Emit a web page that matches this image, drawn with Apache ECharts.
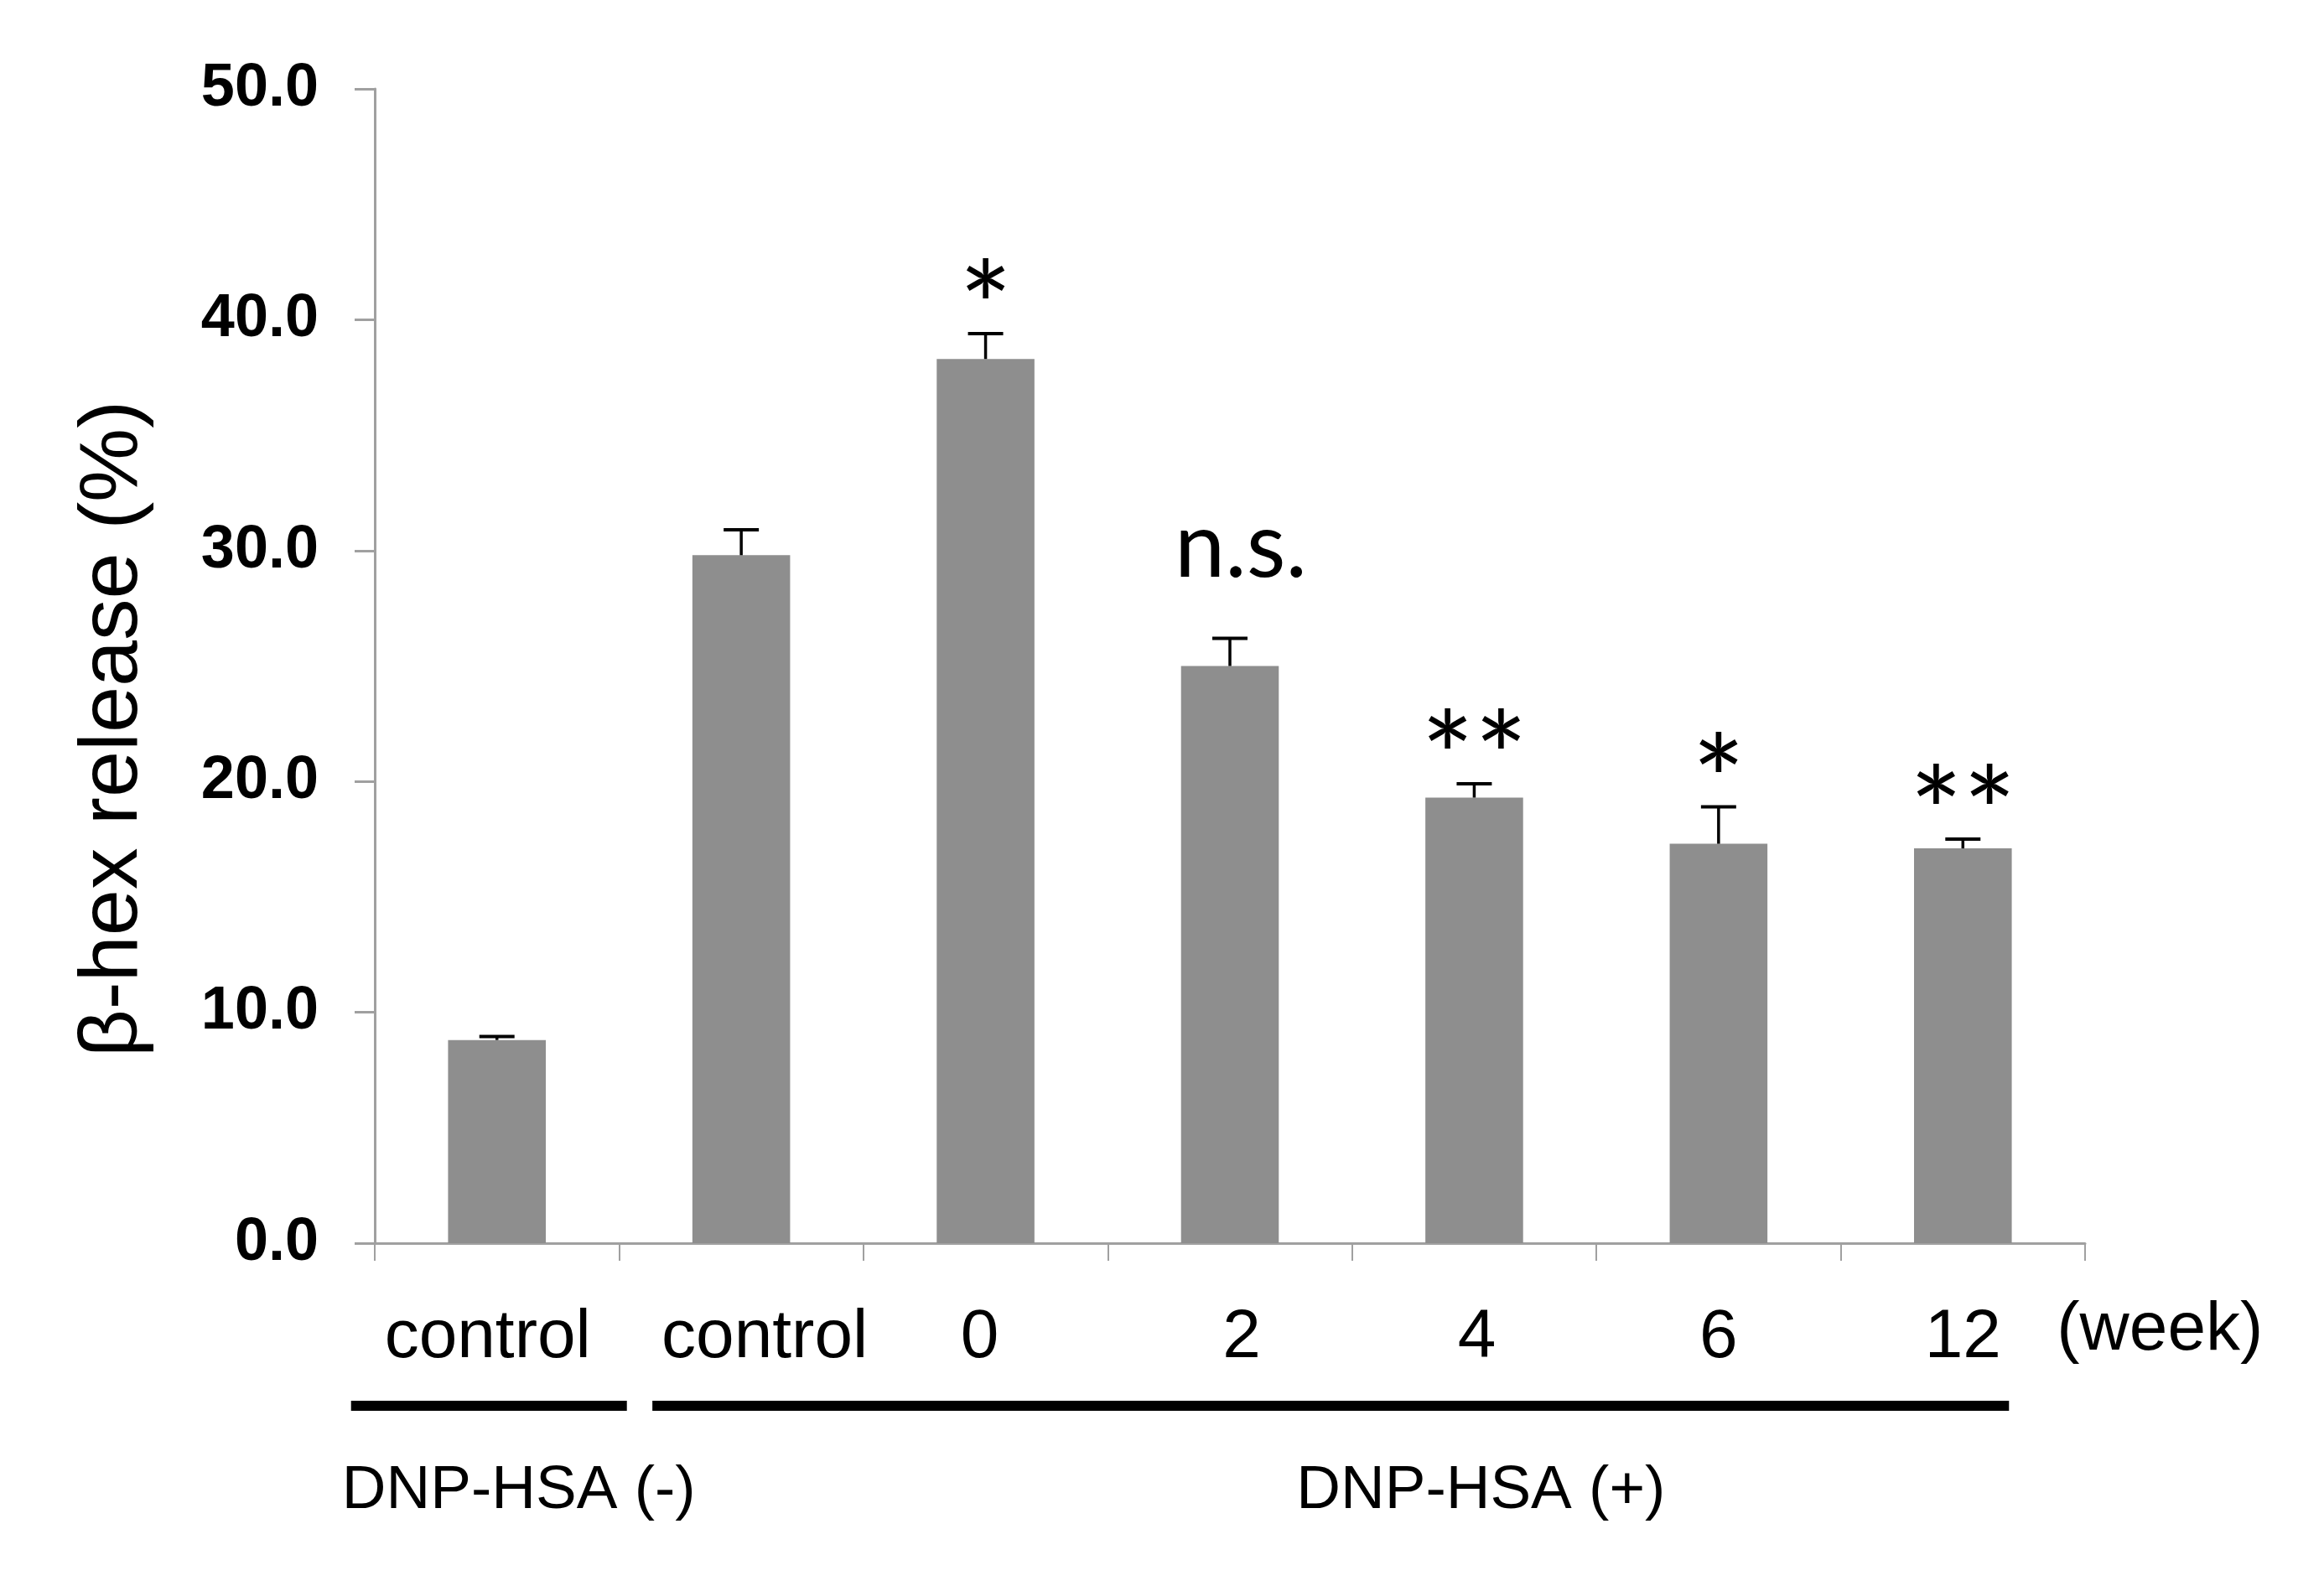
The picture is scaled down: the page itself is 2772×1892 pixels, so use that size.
<!DOCTYPE html>
<html>
<head>
<meta charset="utf-8">
<script src="https://cdn.jsdelivr.net/npm/echarts@6/dist/echarts.min.js"></script>
<style>
html,body{margin:0;padding:0;background:#fff;}
#chart{width:2772px;height:1892px;}
</style>
</head>
<body>
<div id="chart"></div>
<script>
// ---- data ----
const categories = ['control', 'control', '0', '2', '4', '6', '12'];
const means = [8.8, 29.8, 38.3, 25.0, 19.3, 17.3, 17.1];
const errors = [0.15, 1.1, 1.1, 1.2, 0.6, 1.6, 0.4];
const significance = ['', '', '*', 'n.s.', '**', '*', '**'];
const yAxisTitle = 'β-hex release (%)';
const unitLabel = '(week)';
const groupLabels = ['DNP-HSA (-)', 'DNP-HSA (+)'];

// ---- style ----
const ARIAL = '"Liberation Sans", Arial, sans-serif';
const CALIBRI = 'Lato, "Open Sans", sans-serif';
const labelPad = [[0, 22, 0, 0], [0, 0, 0, 56], [0, 14, 0, 0], [0, 0, 0, 28], [0, 0, 0, 6], [0, 0, 0, 0], [0, 0, 0, 0]];

const chart = echarts.init(document.getElementById('chart'));

function renderErr(params, api) {
  const i = api.value(0), m = api.value(1), e = api.value(2);
  const top = api.coord([i, m + e]);
  const base = api.coord([i, m]);
  const bw = api.size([1, 0])[0];
  const half = bw * 0.072;
  const children = [
    {type: 'line', shape: {x1: top[0], y1: base[1], x2: top[0], y2: top[1]},
     style: {stroke: '#000', lineWidth: 3.5}},
    {type: 'line', shape: {x1: top[0] - half, y1: top[1], x2: top[0] + half, y2: top[1]},
     style: {stroke: '#000', lineWidth: 4}}
  ];
  const s = significance[params.dataIndex];
  if (s) {
    const isNs = s === 'n.s.';
    children.push({
      type: 'text',
      style: {
        text: s, x: top[0] + (isNs ? 13 : 0), y: top[1] + (isNs ? -54 : 50),
        align: 'center', verticalAlign: 'bottom',
        font: (isNs ? '400 108px ' : '400 150px ') + CALIBRI,
        fill: '#000'
      }
    });
  }
  return {type: 'group', children};
}

chart.setOption({
  backgroundColor: '#fff',
  animation: false,
  grid: {left: 447, right: 285, top: 106, bottom: 409},
  xAxis: {
    type: 'category',
    data: categories.map((c, i) => ({value: c, textStyle: {padding: labelPad[i]}})),
    axisLine: {lineStyle: {color: '#a0a0a0', width: 3}},
    axisTick: {show: true, length: 21, lineStyle: {color: '#a0a0a0', width: 2}},
    axisLabel: {color: '#000', fontFamily: ARIAL, fontSize: 82, margin: 72, interval: 0}
  },
  yAxis: {
    type: 'value', min: 0, max: 50, interval: 10,
    name: yAxisTitle, nameLocation: 'middle', nameGap: 262,
    nameTextStyle: {color: '#000', fontFamily: ARIAL, fontSize: 99, padding: [0, 150, 0, 0]},
    axisLine: {show: true, lineStyle: {color: '#a0a0a0', width: 3}},
    axisTick: {show: true, length: 24, lineStyle: {color: '#a0a0a0', width: 3}},
    splitLine: {show: false},
    axisLabel: {color: '#000', fontFamily: ARIAL, fontWeight: 'bold', fontSize: 72, margin: 67,
      formatter: v => v.toFixed(1)}
  },
  series: [
    {type: 'bar', data: means, barWidth: '40%', itemStyle: {color: '#8e8e8e'}, z: 2},
    {type: 'custom', renderItem: renderErr, data: means.map((m, i) => [i, m, errors[i]]),
     encode: {x: 0, y: 1}, z: 3}
  ]
});

// annotation graphics positioned from axis conversion
const c0 = chart.convertToPixel({xAxisIndex: 0}, 0);
const c1 = chart.convertToPixel({xAxisIndex: 0}, 1);
const c6 = chart.convertToPixel({xAxisIndex: 0}, categories.length - 1);
const yBase = chart.convertToPixel({yAxisIndex: 0}, 0);
const lineY = yBase + 188;
const textStyle = {fill: '#000', font: '400 73px ' + ARIAL, align: 'center', verticalAlign: 'middle'};
chart.setOption({
  graphic: [
    {type: 'rect', shape: {x: c0 - 174, y: lineY, width: 329, height: 12}, style: {fill: '#000'}},
    {type: 'rect', shape: {x: c1 - 106, y: lineY, width: c6 + 55 - (c1 - 106), height: 12}, style: {fill: '#000'}},
    {type: 'text', x: c0 + 26, y: yBase + 296, style: Object.assign({text: groupLabels[0]}, textStyle)},
    {type: 'text', x: c6 - 575, y: yBase + 296, style: Object.assign({text: groupLabels[1]}, textStyle)},
    {type: 'text', x: c6 + 235, y: yBase + 104,
     style: {text: unitLabel, fill: '#000', font: '400 82px ' + ARIAL, align: 'center', verticalAlign: 'middle'}}
  ]
});
</script>
</body>
</html>
